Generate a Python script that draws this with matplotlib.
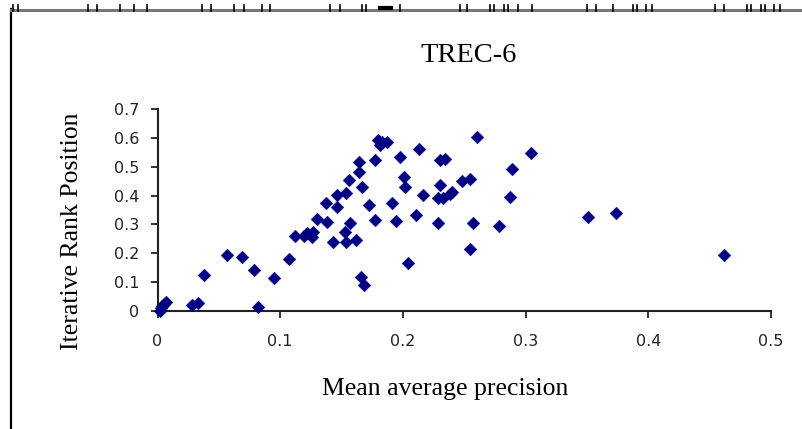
"""
TREC-6: iterative rank position vs mean average precision (scatter).
"""

import matplotlib
matplotlib.use("Agg")
import matplotlib.pyplot as plt
from matplotlib.lines import Line2D

# mean average precision per run
map_values = [
    0.002, 0.003, 0.004, 0.005, 0.007,
    0.028, 0.033, 0.038, 0.057, 0.069, 0.079, 0.082, 0.095, 0.107,
    0.112, 0.119, 0.122, 0.126, 0.127, 0.130, 0.138, 0.137, 0.146, 0.146,
    0.154, 0.156, 0.143, 0.154, 0.153, 0.157, 0.162, 0.164, 0.164, 0.167,
    0.166, 0.168, 0.172, 0.177, 0.177, 0.180, 0.183, 0.187, 0.181,
    0.191, 0.194, 0.198, 0.201, 0.202, 0.204, 0.211, 0.213, 0.216,
    0.229, 0.230, 0.234, 0.230, 0.229, 0.233, 0.238, 0.240,
    0.248, 0.255, 0.257, 0.255, 0.260, 0.278, 0.287, 0.289, 0.304,
    0.351, 0.374, 0.462,
]

# iterative rank position per run
rank_position = [
    0.000, 0.010, 0.015, 0.022, 0.030,
    0.020, 0.028, 0.124, 0.194, 0.188, 0.141, 0.012, 0.115, 0.179,
    0.261, 0.261, 0.269, 0.257, 0.275, 0.319, 0.309, 0.375, 0.361, 0.402,
    0.408, 0.454, 0.240, 0.240, 0.275, 0.304, 0.246, 0.518, 0.483, 0.431,
    0.118, 0.090, 0.367, 0.524, 0.315, 0.593, 0.587, 0.587, 0.576,
    0.373, 0.312, 0.535, 0.464, 0.429, 0.165, 0.333, 0.561, 0.402,
    0.304, 0.524, 0.527, 0.437, 0.391, 0.391, 0.406, 0.414,
    0.452, 0.457, 0.304, 0.213, 0.603, 0.296, 0.394, 0.491, 0.549,
    0.325, 0.339, 0.193,
]

x_ticks = [0, 0.1, 0.2, 0.3, 0.4, 0.5]
x_tick_labels = ["0", "0.1", "0.2", "0.3", "0.4", "0.5"]
y_ticks = [0, 0.1, 0.2, 0.3, 0.4, 0.5, 0.6, 0.7]
y_tick_labels = ["0", "0.1", "0.2", "0.3", "0.4", "0.5", "0.6", "0.7"]

W, H = 802, 429
fig = plt.figure(figsize=(W / 100, H / 100), dpi=100)
fig.patch.set_facecolor("white")

serif = ["Liberation Serif", "DejaVu Serif"]
sans = ["DejaVu Sans"]

ax = fig.add_axes([157.5 / W, 1 - 310.7 / H, (771 - 157.5) / W, (310.7 - 109.3) / H])
ax.scatter(map_values, rank_position, marker="D", s=42, color="#000080",
           edgecolors="#000080", linewidths=0.3, clip_on=False, zorder=3)

ax.set_xlim(0, 0.5)
ax.set_ylim(0, 0.7)
ax.set_xticks(x_ticks)
ax.set_xticklabels(x_tick_labels, fontfamily=sans, fontsize=11.5, color="#222222")
ax.set_yticks(y_ticks)
ax.set_yticklabels(y_tick_labels, fontfamily=sans, fontsize=11.5, color="#222222")
ax.tick_params(direction="out", length=5, width=1.3, colors="#222222")
ax.tick_params(axis="x", pad=12)
ax.tick_params(axis="y", pad=8)
for side in ["top", "right"]:
    ax.spines[side].set_visible(False)
for side in ["left", "bottom"]:
    ax.spines[side].set_linewidth(1.5)
    ax.spines[side].set_color("#222222")

# titles and axis labels
fig.text(469 / W, 1 - 56 / H, "TREC-6", ha="center", va="center",
         fontfamily=serif, fontsize=20.5)
fig.text(445 / W, 1 - 389 / H, "Mean average precision", ha="center", va="center",
         fontfamily=serif, fontsize=18.5)
fig.text(72 / W, 1 - 231 / H, "Iterative Rank Position", ha="center", va="center",
         rotation=90, fontfamily=serif, fontsize=18.5)

# page frame pieces (left rule and top rule with marks)
fig.add_artist(Line2D([11 / W, 11 / W], [0, 1 - 9 / H], transform=fig.transFigure,
                      color="black", linewidth=1.6))
fig.add_artist(Line2D([11 / W, 1], [1 - 10 / H, 1 - 10 / H], transform=fig.transFigure,
                      color="#777777", linewidth=2.2))
marks = [13, 18, 88, 97, 120, 134, 147, 202, 211, 234, 244, 262, 270,
         330, 340, 362, 366, 400, 460, 467, 490, 494, 504, 508, 518, 532,
         587, 596, 613, 633, 637, 646, 652, 715, 724, 747, 751, 761, 765, 774, 780]
for m in marks:
    fig.add_artist(Line2D([m / W, m / W], [1 - 11 / H, 1 - 5 / H], transform=fig.transFigure,
                          color="black", linewidth=1.2))
fig.add_artist(Line2D([380 / W, 391 / W], [1 - 8 / H, 1 - 8 / H], transform=fig.transFigure,
                      color="black", linewidth=3))

fig.savefig("out.png", dpi=100)
